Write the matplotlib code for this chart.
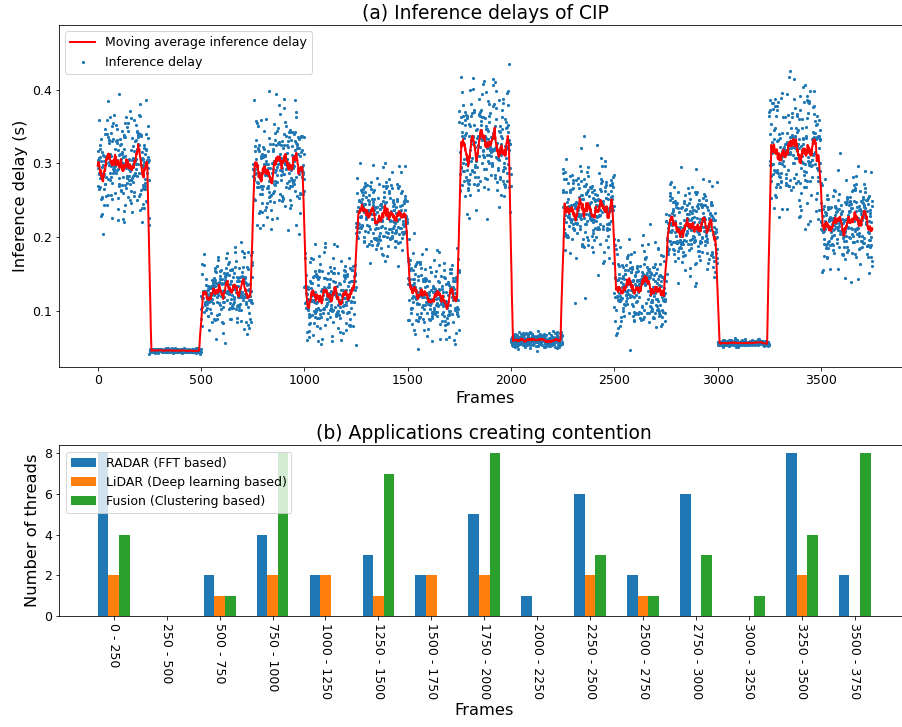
import numpy as np
import pandas as pd
import matplotlib

matplotlib.use("Agg")
import matplotlib.pyplot as plt

# Contention phases, 250 frames each
segment_len = 250
segment_mean = [0.305, 0.046, 0.128, 0.295, 0.122, 0.230, 0.122, 0.322,
                0.060, 0.238, 0.130, 0.215, 0.056, 0.318, 0.220]
segment_std = [0.040, 0.0015, 0.026, 0.040, 0.028, 0.025, 0.028, 0.042,
               0.005, 0.035, 0.028, 0.030, 0.002, 0.045, 0.030]

# Threads launched by each contending application, per phase
phase_labels = ["0 - 250", "250 - 500", "500 - 750", "750 - 1000",
                "1000 - 1250", "1250 - 1500", "1500 - 1750", "1750 - 2000",
                "2000 - 2250", "2250 - 2500", "2500 - 2750", "2750 - 3000",
                "3000 - 3250", "3250 - 3500", "3500 - 3750"]
radar_threads = [8, 0, 2, 4, 2, 3, 2, 5, 1, 6, 2, 6, 0, 8, 2]
lidar_threads = [2, 0, 1, 2, 2, 1, 2, 2, 0, 2, 1, 0, 0, 2, 0]
fusion_threads = [4, 0, 1, 8, 0, 7, 0, 8, 0, 3, 1, 3, 1, 4, 8]

# Per-frame delays: spread around each phase's level with that phase's std
rng = np.random.default_rng(7)
delays = np.concatenate([
    rng.normal(m, s, segment_len) for m, s in zip(segment_mean, segment_std)
])
frames = np.arange(len(delays))
moving_avg = pd.Series(delays).rolling(20, center=True, min_periods=1).mean()

plt.rcParams["font.size"] = 12.5
fig = plt.figure(figsize=(902 / 72, 727 / 72), dpi=72)

ax1 = fig.add_axes([0.0654, 0.4956, 0.9446, 0.470])
ax1.plot(frames, moving_avg, color="red", linewidth=2,
         label="Moving average inference delay", zorder=3)
ax1.scatter(frames, delays, s=4.5, color="tab:blue", label="Inference delay")
ax1.set_ylim(0.024, 0.488)
ax1.set_yticks([0.1, 0.2, 0.3, 0.4])
ax1.set_title("(a) Inference delays of CIP", fontsize=18.8)
ax1.set_xlabel("Frames", fontsize=16.3)
ax1.set_ylabel("Inference delay (s)", fontsize=16.3)
ax1.legend(loc="upper left")

ax2 = fig.add_axes([0.0657, 0.1527, 0.9424, 0.2348])
x = np.arange(len(phase_labels))
width = 0.2
ax2.bar(x - width, radar_threads, width, label="RADAR (FFT based)")
ax2.bar(x, lidar_threads, width, label="LiDAR (Deep learning based)")
ax2.bar(x + width, fusion_threads, width, label="Fusion (Clustering based)")
ax2.set_xticks(x)
ax2.set_xticklabels(phase_labels, rotation=-90)
ax2.set_yticks([0, 2, 4, 6, 8])
ax2.set_title("(b) Applications creating contention", fontsize=18.8)
ax2.set_xlabel("Frames", fontsize=16.3)
ax2.set_ylabel("Number of threads", fontsize=16.3)
ax2.legend(loc="upper left")

fig.savefig("out.png", dpi=72)
